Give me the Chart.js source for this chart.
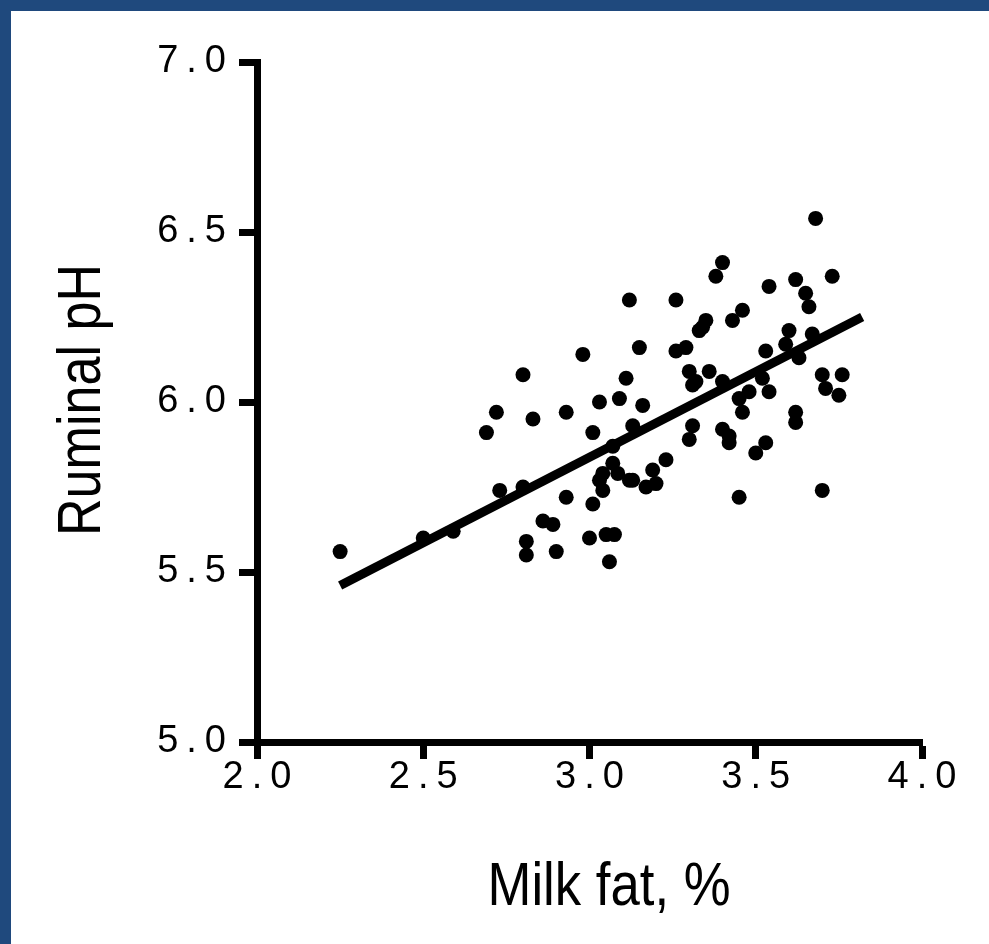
<!DOCTYPE html>
<html>
<head>
<meta charset="utf-8">
<script src="https://cdn.jsdelivr.net/npm/chart.js@4"></script>
<style>
    html, body { margin: 0; padding: 0; }
    body { background: #1f497d; width: 989px; height: 944px; overflow: hidden; position: relative; }
    #panel { position: absolute; left: 11px; top: 11px; width: 978px; height: 933px; background: #fff; }
    #scatterChart { display: block; }
</style>
</head>
<body>
<div id="panel"><canvas id="scatterChart" width="978" height="933"></canvas></div>
<script>
// Milk fat (%) vs ruminal pH, one point per cow
const milkFat = [
    2.25, 2.50, 2.59, 2.69, 2.72, 2.73, 2.80, 2.80, 2.81, 2.81,
    2.83, 2.86, 2.89, 2.90, 2.93, 2.93, 2.98, 3.00, 3.01, 3.01,
    3.03, 3.03, 3.04, 3.04, 3.05, 3.06, 3.07, 3.07, 3.075, 3.085,
    3.09, 3.11, 3.12, 3.12, 3.13, 3.13, 3.15, 3.16, 3.17, 3.19,
    3.20, 3.23, 3.26, 3.26, 3.29, 3.30, 3.30, 3.31, 3.31, 3.32,
    3.33, 3.34, 3.35, 3.36, 3.38, 3.40, 3.40, 3.40, 3.42, 3.42,
    3.43, 3.45, 3.45, 3.46, 3.46, 3.48, 3.50, 3.52, 3.53, 3.53,
    3.54, 3.54, 3.59, 3.60, 3.62, 3.62, 3.62, 3.63, 3.65, 3.66,
    3.67, 3.68, 3.70, 3.70, 3.71, 3.73, 3.75, 3.76
];
const ruminalPH = [
    5.56, 5.60, 5.62, 5.91, 5.97, 5.74, 5.75, 6.08, 5.59, 5.55,
    5.95, 5.65, 5.64, 5.56, 5.97, 5.72, 6.14, 5.60, 5.91, 5.70,
    6.00, 5.77, 5.79, 5.74, 5.61, 5.53, 5.87, 5.82, 5.61, 5.79,
    6.01, 6.07, 6.30, 5.77, 5.93, 5.77, 6.16, 5.99, 5.75, 5.80,
    5.76, 5.83, 6.30, 6.15, 6.16, 6.09, 5.89, 5.93, 6.05, 6.06,
    6.21, 6.22, 6.24, 6.09, 6.37, 6.41, 6.06, 5.92, 5.90, 5.88,
    6.24, 6.01, 5.72, 5.97, 6.27, 6.03, 5.85, 6.07, 5.88, 6.15,
    6.34, 6.03, 6.17, 6.21, 6.36, 5.94, 5.97, 6.13, 6.32, 6.28,
    6.20, 6.54, 6.08, 5.74, 6.04, 6.37, 6.02, 6.08
];

// regression line end points
const fitX = [2.25, 3.82];
const fitY = [5.46, 6.25];

const xTickLabels = ['2.0', '2.5', '3.0', '3.5', '4.0'];
const yTickLabels = ['5.0', '5.5', '6.0', '6.5', '7.0'];

const xTitle = 'Milk fat, %';
const yTitle = 'Ruminal pH';

document.addEventListener('DOMContentLoaded', function () {
    const ctx = document.getElementById('scatterChart').getContext('2d');

    // tick labels are widely tracked, axis titles are a narrow face
    const axisTitles = {
        id: 'axisTitles',
        beforeDraw(chart) {
            chart.ctx.letterSpacing = '8px';
        },
        afterDraw(chart) {
            const c = chart.ctx;
            c.save();
            c.letterSpacing = '0px';
            c.fillStyle = '#000';
            c.font = '62px "Liberation Sans", Arial, sans-serif';
            c.textAlign = 'center';
            c.textBaseline = 'alphabetic';

            c.save();
            c.translate(598, 894);
            c.scale(0.85, 1);
            c.fillText(xTitle, 0, 0);
            c.restore();

            c.save();
            c.translate(89, 389);
            c.rotate(-Math.PI / 2);
            c.scale(0.84, 1);
            c.fillText(yTitle, 0, 0);
            c.restore();

            c.restore();
        }
    };

    const tickFont = { family: '"Liberation Sans", Arial, sans-serif', size: 38 };

    new Chart(ctx, {
        type: 'scatter',
        data: {
            datasets: [
                {
                    label: 'Cows',
                    data: milkFat.map((x, i) => ({ x: x, y: ruminalPH[i] })),
                    backgroundColor: '#000',
                    borderWidth: 0,
                    pointRadius: 7.5,
                    pointHoverRadius: 7.5
                },
                {
                    label: 'Fit',
                    type: 'line',
                    data: fitX.map((x, i) => ({ x: x, y: fitY[i] })),
                    borderColor: '#000',
                    borderWidth: 9,
                    borderCapStyle: 'butt',
                    pointRadius: 0,
                    fill: false
                }
            ]
        },
        options: {
            responsive: false,
            animation: false,
            devicePixelRatio: 1,
            layout: { padding: { left: 0, top: 51, right: 67, bottom: 0 } },
            plugins: {
                legend: { display: false },
                tooltip: { enabled: false }
            },
            scales: {
                x: {
                    type: 'linear',
                    min: 2,
                    max: 4,
                    afterFit: scale => { scale.height = 202; },
                    border: { display: true, color: '#000', width: 7 },
                    grid: {
                        drawOnChartArea: false,
                        color: '#000',
                        tickColor: '#000',
                        tickLength: 17,
                        tickWidth: 7
                    },
                    ticks: {
                        stepSize: 0.5,
                        color: '#000',
                        font: tickFont,
                        padding: -4,
                        labelOffset: 4,
                        maxRotation: 0,
                        callback: (v, i) => xTickLabels[i]
                    }
                },
                y: {
                    type: 'linear',
                    min: 5,
                    max: 7,
                    afterFit: scale => { scale.width = 246; },
                    border: { display: true, color: '#000', width: 7 },
                    grid: {
                        drawOnChartArea: false,
                        color: '#000',
                        tickColor: '#000',
                        tickLength: 18,
                        tickWidth: 7
                    },
                    ticks: {
                        stepSize: 0.5,
                        color: '#000',
                        font: tickFont,
                        padding: 5,
                        callback: (v, i) => yTickLabels[i]
                    }
                }
            }
        },
        plugins: [axisTitles]
    });
});
</script>
</body>
</html>
